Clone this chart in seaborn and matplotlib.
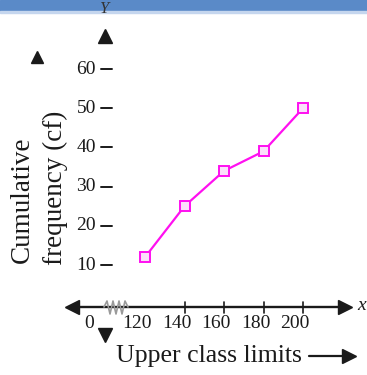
import matplotlib
matplotlib.use("Agg")
import matplotlib.pyplot as plt
import pandas as pd
import seaborn as sns
from matplotlib.patches import Rectangle

sns.set_style("white")
plt.rcParams["font.family"] = ["Liberation Serif", "DejaVu Serif"]

upper_limits = [120, 140, 160, 180, 200]
cum_freq = [12, 25, 34, 39, 50]
y_ticks = [10, 20, 30, 40, 50, 60]

df = pd.DataFrame({"upper": upper_limits, "cf": cum_freq})

W, H = 367, 375
fig = plt.figure(figsize=(W / 100, H / 100), dpi=100)
fig.set_facecolor("white")
ax = fig.add_axes([0, 0, 1, 1])
ax.set_facecolor("white")

# scale: 120 -> px 145, 1.975 px per unit; 10 -> py 265, 3.92 px per unit
ax.set_xlim(120 - 145 / 1.975, 120 + (W - 145) / 1.975)
ax.set_ylim(10 - (H - 265) / 3.92, 10 + 265 / 3.92)
ax.axis("off")


def fx(px):
    return px / W


def fy(py):
    return 1 - py / H


ink = "#1a1a1a"
TA = ax.transAxes

sns.lineplot(data=df, x="upper", y="cf", ax=ax, color="#FF10F0", lw=1.6,
             marker="s", markersize=6.8, markerfacecolor="#FBE0FB",
             markeredgecolor="#FF10F0", markeredgewidth=1.4, zorder=5)

# header band
ax.add_patch(Rectangle((0, fy(11)), 1, 11 / H, transform=TA,
                       color="#5A8AC8", zorder=6, clip_on=False))
ax.add_patch(Rectangle((0, fy(13)), 1, 2 / H, transform=TA,
                       color="#C5D6EE", zorder=6, clip_on=False))
ax.text(fx(104), fy(9), "Y", transform=TA, ha="center", va="center",
        fontsize=12, style="italic", color="#333333", zorder=7)

# x axis with arrows
ax.plot([fx(70), fx(348)], [fy(307), fy(307)], transform=TA, color=ink,
        lw=1.7, clip_on=False)
ax.plot([fx(72)], [fy(307)], marker="<", ms=10, color=ink, transform=TA)
ax.plot([fx(345)], [fy(307)], marker=">", ms=10, color=ink, transform=TA)
ax.text(fx(362), fy(305), "x", transform=TA, ha="center", va="center",
        fontsize=14, style="italic", color=ink)

# axis break
zx = [104, 107, 110, 113, 116, 119, 122, 125, 128]
zy = [307, 301, 314, 301, 314, 301, 314, 301, 307]
ax.plot([fx(v) for v in zx], [fy(v) for v in zy], transform=TA,
        color="#9a9a9a", lw=1.2)

# x ticks and labels
xt = ax.get_xaxis_transform()
for v in upper_limits[1:]:
    ax.plot([v, v], [fy(302), fy(313)], transform=xt, color=ink, lw=1.2)
for v in upper_limits:
    ax.text(v - 4, fy(324), str(v), transform=xt, ha="center", va="center",
            fontsize=14, color=ink)
ax.text(fx(89), fy(324), "0", transform=TA, ha="center", va="center",
        fontsize=14, color=ink)

# y axis arrows (no visible axis line)
ax.plot([fx(105)], [fy(36)], marker="^", ms=10, color=ink, transform=TA)
ax.plot([fx(105)], [fy(335)], marker="v", ms=10, color=ink, transform=TA)
ax.plot([fx(37)], [fy(57)], marker="^", ms=9, color=ink, transform=TA)

yt = ax.get_yaxis_transform()
for v in y_ticks:
    ax.plot([fx(101), fx(112)], [v, v], transform=yt, color=ink, lw=1.4)
    ax.text(fx(96), v, str(v), transform=yt, ha="right", va="center",
            fontsize=14, color=ink)

# axis titles
ax.text(fx(22), fy(200), "Cumulative", transform=TA, rotation=90,
        ha="center", va="center", fontsize=19.5, color=ink)
ax.text(fx(55), fy(188), "frequency (cf)", transform=TA, rotation=90,
        ha="center", va="center", fontsize=19.5, color=ink)
ax.text(fx(209), fy(356), "Upper class limits", transform=TA,
        ha="center", va="center", fontsize=18.5, color=ink)
ax.plot([fx(309), fx(347)], [fy(356), fy(356)], transform=TA, color=ink,
        lw=1.6)
ax.plot([fx(349)], [fy(356)], marker=">", ms=10, color=ink, transform=TA)

fig.savefig("out.png", dpi=100, facecolor="white")
